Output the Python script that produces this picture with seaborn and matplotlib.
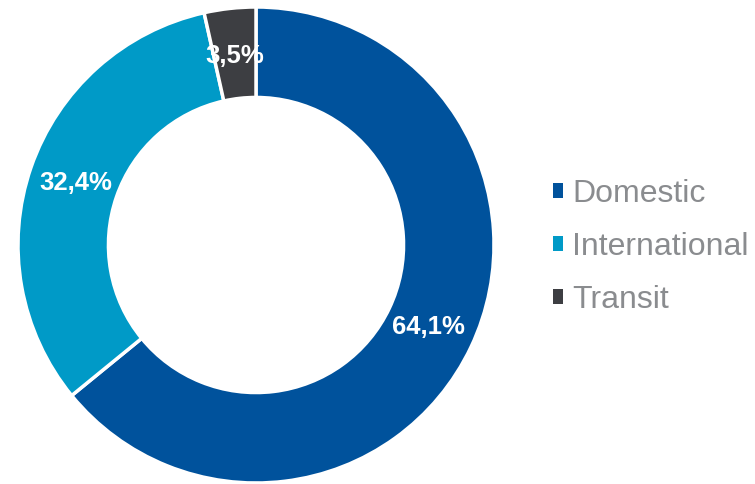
import matplotlib
matplotlib.use("Agg")
import matplotlib.pyplot as plt
import seaborn as sns
import numpy as np

# passenger share by traffic type
categories = ["Domestic", "International", "Transit"]
shares = [64.1, 32.4, 3.5]
labels = ["64,1%", "32,4%", "3,5%"]
colors = ["#00529C", "#009AC7", "#3D3E42"]

sns.set_theme(style="white")
plt.rcParams['font.family'] = ['Liberation Sans', 'DejaVu Sans']

fig = plt.figure(figsize=(7.55, 4.84), dpi=100)
W, H = 755, 484
cx, cy, r = 256, 245, 238
ax = fig.add_axes([(cx - r) / W, (H - cy - r) / H, 2 * r / W, 2 * r / H])

wedges, _ = ax.pie(shares, colors=colors, startangle=90, counterclock=False,
                   radius=1.0, wedgeprops=dict(width=0.38, edgecolor='white', linewidth=2.5))

# percentage labels on the ring
cum = np.cumsum([0] + shares[:-1])
for start, val, lab in zip(cum, shares, labels):
    ang = np.deg2rad(90 - (start + val / 2) * 3.6)
    ax.text(0.80 * np.cos(ang), 0.80 * np.sin(ang), lab, ha='center', va='center',
            color='white', fontsize=18.5, fontweight='bold')

ax.set_xlim(-1, 1)
ax.set_ylim(-1, 1)
ax.set_aspect('equal')
ax.axis('off')

leg = fig.legend(wedges, categories, loc='center left',
                 bbox_to_anchor=(553 / W, 1 - 247 / H), frameon=False,
                 fontsize=23, handlelength=0.3, handleheight=0.3,
                 handletextpad=0.3, labelspacing=0.72, borderpad=0, borderaxespad=0)
for t in leg.get_texts():
    t.set_color('#8A8C8F')
for h in leg.legend_handles:
    h.set_linewidth(0)

fig.savefig("out.png", dpi=100)
